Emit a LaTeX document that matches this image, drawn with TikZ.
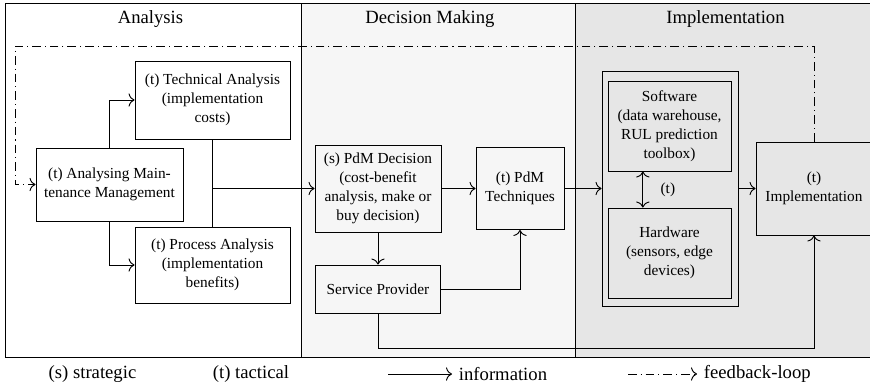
\documentclass[tikz,border=0pt]{standalone}
\usepackage{fontspec}
\setmainfont{Liberation Serif}
\usetikzlibrary{arrows.meta}
\definecolor{decisionbg}{HTML}{F6F6F6}
\definecolor{implbg}{HTML}{E6E6E6}
\tikzset{
  block/.style={draw, line width=0.7pt, inner sep=0pt, align=center,
    font=\fontsize{11.5}{14.2}\selectfont},
  boxsize/.style 2 args={minimum width=#1*0.75pt, minimum height=#2*0.75pt},
  info/.style={line width=0.7pt, -{To[length=4.5pt,width=10pt]}},
  feedback/.style={line width=0.7pt, dash pattern=on 6.5pt off 3pt on 0.8pt off 3pt,
    -{To[length=4.5pt,width=10pt]}},
  phase/.style={font=\fontsize{14}{16}\selectfont},
  legend/.style={font=\fontsize{14}{16}\selectfont, inner sep=1pt}
}

\begin{document}
\begin{tikzpicture}[x=0.75pt, y=-0.75pt]

    \useasboundingbox (0,0) rectangle (870,389);
    \clip (0,0) rectangle (870,389);

    % Phase columns
    \fill[decisionbg] (301,3) rectangle (575,357);
    \fill[implbg] (575,3) rectangle (880,357);
    \draw[line width=0.7pt] (5,3) rectangle (880,357);
    \draw[line width=0.7pt] (301,3) -- (301,357);
    \draw[line width=0.7pt] (575,3) -- (575,357);
    \node[phase] (analysis) at (150.5,19) {Analysis};
    \node[phase] (decisionmaking) at (430,19) {Decision Making};
    \node[phase] (implementation) at (725.5,19) {Implementation};

    % Analysis
    \node[block, boxsize={147}{73}] (analyse) at (109.5,184.5) {(t) Analysing Main-\\tenance Management};
    \node[block, boxsize={155}{78}] (tech) at (212.5,100) {(t) Technical Analysis\\(implementation\\costs)};
    \node[block, boxsize={155}{76}] (proc) at (212.5,265) {(t) Process Analysis\\(implementation\\benefits)};

    % Decision making
    \node[block, boxsize={126}{87}] (decision) at (378,188.5) {(s) PdM Decision\\(cost-benefit\\analysis, make or\\buy decision)};
    \node[block, boxsize={88}{82}] (techniques) at (520,188.5) {(t) PdM\\Techniques};
    \node[block, boxsize={125}{48}] (provider) at (378,289) {Service Provider};

    % Implementation
    \node[block, boxsize={136}{235}] (system) at (670,188.5) {};
    \node[block, boxsize={123}{90}] (software) at (669.5,126) {Software\\(data warehouse,\\RUL prediction\\toolbox)};
    \node[block, boxsize={123}{90}] (hardware) at (669.5,253) {Hardware\\(sensors, edge\\devices)};
    \node[block, boxsize={116}{93}] (impl) at (814,188.5) {(t)\\Implementation};

    % Information flow
    \coordinate (merge) at (tech.south |- decision.west);
    \draw[info] (analyse.north) |- (tech.west);
    \draw[info] (analyse.south) |- (proc.west);
    \draw[line width=0.7pt] (tech.south) -- (proc.north);
    \draw[info] (merge) -- (decision.west);
    \draw[info] (decision.east) -- (techniques.west);
    \draw[info] (decision.south) -- (provider.north);
    \draw[info] (provider.east) -| (techniques.south);
    \draw[info] (techniques.east) -- (system.west);
    \draw[info] (system.east) -- (impl.west);
    \draw[info] (provider.south) -- ++(0,35) -| (impl.south);
    \draw[info, {To[length=4.5pt,width=10pt]}-{To[length=4.5pt,width=10pt]}]
        ([xshift=-20pt]software.south) -- node[right=13pt, block, draw=none] {(t)} ([xshift=-20pt]hardware.north);

    % Feedback loop
    \coordinate (fbtop) at (15,46);
    \draw[feedback] (impl.north) |- (fbtop) |- (analyse.west);

    % Legend
    \node[legend] (strategic) at (92.5,374) {(s) strategic};
    \node[legend] (tactical) at (251,374) {(t) tactical};
    \coordinate (infostart) at (388,374);
    \node[legend, anchor=west, inner xsep=5pt] (infotext) at (452,374) {information};
    \draw[info] (infostart) -- (infotext.west);
    \coordinate (fbstart) at (628,374);
    \node[legend, anchor=west, inner xsep=5pt] (fbtext) at (697,374) {feedback-loop};
    \draw[feedback] (fbstart) -- (fbtext.west);

\end{tikzpicture}
\end{document}
